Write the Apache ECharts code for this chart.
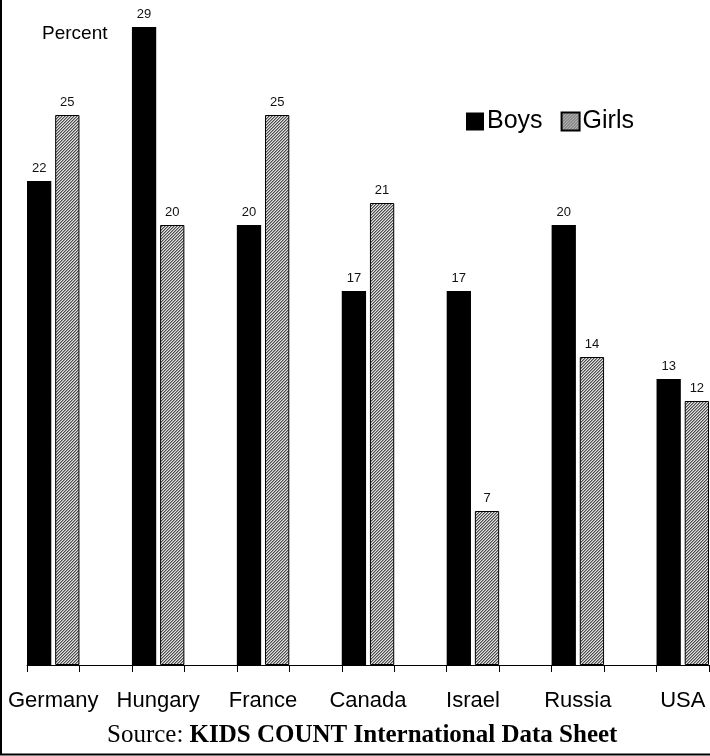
<!DOCTYPE html>
<html>
<head>
<meta charset="utf-8">
<script src="https://cdn.jsdelivr.net/npm/echarts@6/dist/echarts.min.js"></script>
<style>
  html, body { margin: 0; padding: 0; background: #fff; }
  #chart { width: 710px; height: 756px; }
</style>
</head>
<body>
<div id="chart"></div>
<script>
// Share of young people, by country and sex (percent)
const countries = ['Germany', 'Hungary', 'France', 'Canada', 'Israel', 'Russia', 'USA'];
const boys = [22, 29, 20, 17, 17, 20, 13];
const girls = [25, 20, 25, 21, 7, 14, 12];

// Each country is followed by an empty slot so the groups sit apart on the axis
const slots = [], boysSlots = [], girlsSlots = [];
countries.forEach((c, i) => {
  slots.push(c); boysSlots.push(boys[i]); girlsSlots.push(girls[i]);
  if (i < countries.length - 1) { slots.push(''); boysSlots.push(null); girlsSlots.push(null); }
});

// Fine diagonal hatch used for the Girls bars (pixel-level tile)
function hatch() {
  const n = 6;
  const c = document.createElement('canvas');
  c.width = n; c.height = n;
  const g = c.getContext('2d');
  const shades = ['#4c4c4c', '#9c9c9c', '#e2e2e2'];
  for (let y = 0; y < n; y++) {
    for (let x = 0; x < n; x++) {
      g.fillStyle = shades[(x + y) % 3];
      g.fillRect(x, y, 1, 1);
    }
  }
  return c;
}
const girlsFill = { image: hatch(), repeat: 'repeat' };

const labelStyle = {
  show: true, position: 'top', distance: 6,
  fontFamily: 'Liberation Sans, Arial', fontSize: 13, color: '#111'
};

const chart = echarts.init(document.getElementById('chart'));
chart.setOption({
  animation: false,
  backgroundColor: '#fff',
  grid: { left: 27, right: 1, top: 5, bottom: 91, containLabel: false },
  legend: {
    left: 461, top: 104,
    itemWidth: 18, itemHeight: 18, itemGap: 18,
    icon: 'rect',
    textStyle: { fontFamily: 'Liberation Sans, Arial', fontSize: 25, color: '#000', padding: [0, 0, 0, -2] },
    data: ['Boys', 'Girls']
  },
  xAxis: {
    type: 'category',
    data: slots,
    axisLine: { lineStyle: { color: '#000', width: 1 } },
    axisTick: { show: true, interval: 0, length: 7, lineStyle: { color: '#000' } },
    axisLabel: { interval: 0, margin: 25, fontFamily: 'Liberation Sans, Arial', fontSize: 22, color: '#000' }
  },
  yAxis: {
    type: 'value', min: 0, max: 30,
    show: false
  },
  series: [
    {
      name: 'Boys', type: 'bar', data: boysSlots,
      barCategoryGap: '0%', barGap: '16%',
      itemStyle: { color: '#000' },
      label: labelStyle
    },
    {
      name: 'Girls', type: 'bar', data: girlsSlots,
      barCategoryGap: '0%', barGap: '16%',
      itemStyle: { color: girlsFill, borderColor: '#000', borderWidth: 1 },
      label: labelStyle
    }
  ],
  graphic: [
    { type: 'line', shape: { x1: 1, y1: 0, x2: 1, y2: 755 }, style: { stroke: '#000', lineWidth: 2 } },
    { type: 'line', shape: { x1: 0, y1: 754.5, x2: 710, y2: 754.5 }, style: { stroke: '#000', lineWidth: 2 } },
    {
      type: 'text', left: 42, top: 24,
      style: { text: 'Percent', fontFamily: 'Liberation Sans, Arial', fontSize: 19, fill: '#000' }
    },
    {
      type: 'text', left: 107, top: 723,
      style: {
        text: '{a|Source: }{b|KIDS COUNT International Data Sheet}',
        rich: {
          a: { fontFamily: 'Liberation Serif, Times New Roman', fontSize: 25, fill: '#000' },
          b: { fontFamily: 'Liberation Serif, Times New Roman', fontSize: 25, fontWeight: 'bold', fill: '#000' }
        }
      }
    }
  ]
});
</script>
</body>
</html>
